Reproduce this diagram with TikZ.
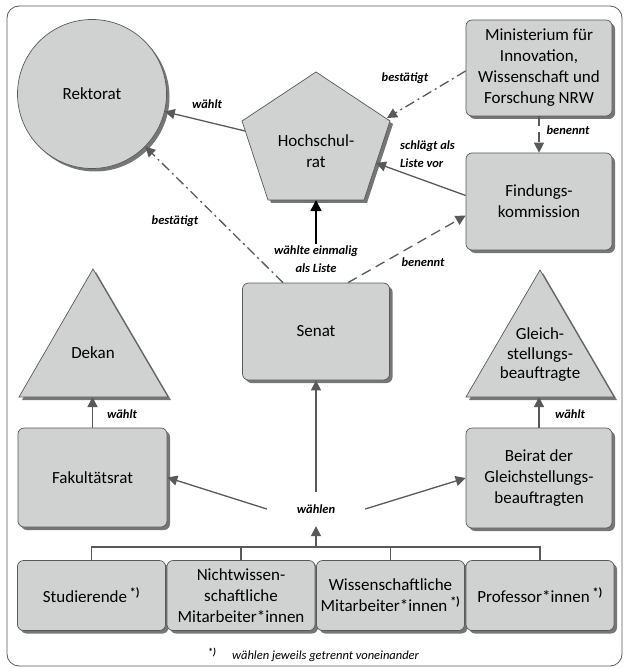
\documentclass[tikz,border=0pt]{standalone}
\usepackage{fontspec}
\setmainfont{Carlito}
\usetikzlibrary{arrows.meta,shadows,calc}
\definecolor{boxfill}{RGB}{208,210,209}
\definecolor{linegray}{RGB}{89,89,89}
\definecolor{shadowgray}{RGB}{118,118,118}
\newcommand{\fnmark}{\,\textsuperscript{\textbf{*)}}}
\begin{document}
\begin{tikzpicture}[x=1pt,y=-1pt,
  myshadow/.style={drop shadow={shadow xshift=3pt,shadow yshift=-3pt,fill=shadowgray,opacity=1}},
  shapestyle/.style={draw=linegray,line width=0.7pt,fill=boxfill,myshadow},
  box/.style={shapestyle,rectangle,rounded corners=6pt,align=center,
    font=\fontsize{17}{21}\selectfont,inner xsep=0pt,inner ysep=2pt},
  txt/.style={align=center,font=\fontsize{17}{21}\selectfont,inner sep=0pt},
  lbl/.style={font=\fontsize{12.5}{17.5}\selectfont\bfseries\itshape,align=center,inner sep=2pt},
  conn/.style={draw=linegray,line width=1.3pt,-{Triangle[width=10pt,length=10pt]},color=linegray},
  dashdotline/.style={dash pattern=on 10pt off 4pt on 2pt off 4pt},
  dashline/.style={dash pattern=on 10pt off 6pt},
]
\useasboundingbox (0,0) rectangle (626,668);
\draw[draw=linegray,line width=0.8pt,rounded corners=12pt] (7,6) rectangle (622,666);

% Rektorat
\node[shapestyle,circle,minimum size=149pt,font=\fontsize{17}{21}\selectfont] (rek) at (92,94) {Rektorat};

% Hochschulrat pentagon
\coordinate (p1) at (316,72);
\coordinate (p2) at (390,121);
\coordinate (p3) at (364,200);
\coordinate (p4) at (268,200);
\coordinate (p5) at (242,121);
\draw[shapestyle] (p1)--(p2)--(p3)--(p4)--(p5)--cycle;
\node[txt] (hr) at (316,151) {Hochschul-\\rat};
\coordinate (hrl) at (245,131);
\coordinate (hrtr) at (387,118);
\coordinate (hrr) at (376,163);
\coordinate (hrb) at (316,200);

% Boxes
\node[box,minimum width=146pt,minimum height=96pt] (min) at (539,68)
  {Ministerium für\\Innovation,\\Wissenschaft und\\Forschung NRW};
\node[box,minimum width=146pt,minimum height=97pt] (find) at (539,201.5)
  {Findungs-\\kommission};
\node[box,minimum width=147pt,minimum height=97pt] (senat) at (316,331.5) {Senat};
\node[box,minimum width=149pt,minimum height=99pt] (fak) at (92.5,477.5) {Fakultätsrat};
\node[box,minimum width=146pt,minimum height=100pt] (beirat) at (539,478)
  {Beirat der\\Gleichstellungs-\\beauftragten};

% Triangles
\draw[shapestyle] (93,269) -- (168,397) -- (19,397) -- cycle;
\node[txt] (dekan) at (93,353) {Dekan};
\coordinate (dekb) at (92.5,397);
\draw[shapestyle] (540,270) -- (614,397) -- (466,397) -- cycle;
\node[txt,font=\fontsize{17}{19.5}\selectfont] (gleich) at (540,355) {Gleich-\\stellungs-\\beauftragte};
\coordinate (gleb) at (539,397);

% Bottom boxes
\node[box,minimum width=148pt,minimum height=70pt] (s1) at (91.5,595.5) {Studierende\fnmark};
\node[box,minimum width=148pt,minimum height=70pt] (s2) at (241,595.5) {Nichtwissen-\\schaftliche\\Mitarbeiter*innen};
\node[box,minimum width=148pt,minimum height=70pt] (s3) at (390.5,595.5) {Wissenschaftliche\\Mitarbeiter*innen\fnmark};
\node[box,minimum width=148pt,minimum height=70pt] (s4) at (540,595.5) {Professor*innen\fnmark};

% Bus
\coordinate (bus) at (316,547);
\draw[linegray,line width=1.3pt] (s1.north) |- (bus) -| (s4.north);
\draw[linegray,line width=1.3pt] (s2.north) |- (bus);
\draw[linegray,line width=1.3pt] (s3.north) |- (bus);

\node[lbl,minimum width=98pt,minimum height=34pt] (waehlen) at (316,509) {wählen};
\draw[conn] (bus) -- (waehlen.south);
\draw[conn] (waehlen.north) -- (senat.south);
\draw[conn] (waehlen.west) -- (fak.east);
\draw[conn] (waehlen.east) -- (beirat.west);

\draw[conn] (fak.north) -- (dekb);
\node[lbl] (l1) at (122,414) {wählt};
\draw[conn] (beirat.north) -- (gleb);
\node[lbl] (l2) at (570,414) {wählt};

% Upper connectors
\draw[conn] (hrl) -- (rek);
\node[lbl] (l3) at (207,104) {wählt};

\draw[conn,dashdotline] ([xshift=-33pt]senat.north) -- (rek);
\node[lbl] (l4) at (175,221) {bestätigt};

\node[lbl] (wl) at (316,259) {wählte einmalig\\als Liste};
\draw[black,line width=1.5pt,-{Triangle[width=11pt,length=11pt]}] (wl.north) -- (hrb);

\draw[conn,dashline] ([xshift=32pt]senat.north) -- ([yshift=-14pt]find.west);
\node[lbl] (l5) at (423,262) {benennt};

\draw[conn] ([yshift=6pt]find.west) -- (hrr);
\node[lbl,align=left,anchor=west] (l6) at (398,154) {schlägt als\\Liste vor};

\draw[conn,dashdotline] ([yshift=-3pt]min.west) -- (hrtr);
\node[lbl] (l7) at (405,78) {bestätigt};

\draw[conn,dashline] (min.south) -- (find.north);
\node[lbl] (l8) at (568,130) {benennt};

% Footnote
\node[font=\fontsize{12.5}{14}\selectfont\itshape,anchor=west,inner sep=0pt] (fn) at (232,656) {wählen jeweils getrennt voneinander};
\node[font=\fontsize{10}{12}\selectfont\bfseries\itshape,inner sep=0pt] (fnm) at (212,653) {*)};
\end{tikzpicture}
\end{document}
